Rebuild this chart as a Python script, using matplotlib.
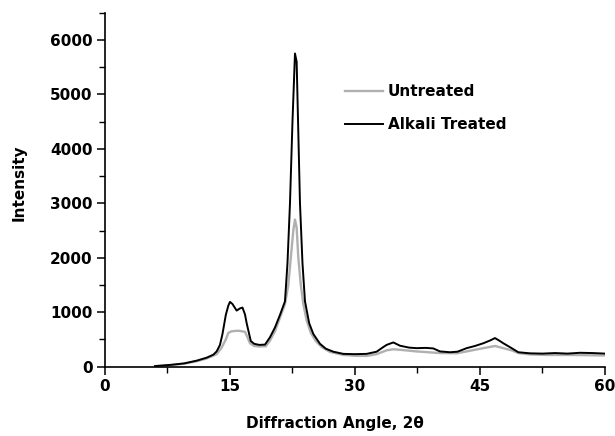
import matplotlib
matplotlib.use('Agg')
import matplotlib.pyplot as plt
from matplotlib.ticker import MultipleLocator

# diffraction angle (2 theta) and intensity
angle_t = [6.0, 8.0, 9.5, 11.0, 12.2, 13.0, 13.4, 13.8, 14.1, 14.5, 14.8, 15.0, 15.3, 15.8, 16.2,
           16.5, 16.8, 17.0, 17.3, 17.5, 17.9, 18.5, 19.2, 19.8, 20.4, 21.0, 21.6, 21.9, 22.2, 22.5,
           22.8, 23.0, 23.2, 23.4, 23.7, 24.0, 24.5, 25.0, 25.8, 26.5, 27.4, 28.6, 30.0, 31.4, 32.6,
           33.3, 33.8, 34.6, 35.4, 36.5, 37.4, 38.5, 39.4, 40.2, 41.4, 42.3, 43.4, 44.4, 45.4, 46.2,
           46.8, 47.3, 47.8, 48.8, 49.6, 51.0, 52.5, 54.0, 55.5, 57.0, 58.5, 60.0]
treated = [10, 35, 60, 110, 165, 220, 280, 400, 600, 950, 1120, 1190, 1150, 1030, 1070,
           1085, 960, 800, 600, 470, 420, 400, 405, 540, 720, 950, 1200, 1900, 3000, 4500,
           5750, 5600, 4300, 3000, 1900, 1200, 800, 600, 420, 330, 275, 235, 230, 235, 275,
           350, 400, 445, 385, 350, 340, 345, 335, 280, 265, 275, 340, 380, 430, 480,
           525, 480, 430, 340, 265, 245, 240, 250, 240, 255, 250, 240]

angle_u = [6.0, 8.0, 9.5, 11.0, 12.2, 13.4, 14.0, 14.5, 14.8, 15.2, 16.0, 16.8, 17.1, 17.4, 17.9,
           18.5, 19.3, 19.8, 20.4, 21.0, 21.6, 22.0, 22.3, 22.6, 22.8, 23.0, 23.2, 23.5, 23.8, 24.2,
           24.7, 25.3, 26.0, 27.0, 28.6, 30.0, 31.4, 32.6, 33.8, 34.6, 35.4, 37.4, 39.4, 40.2, 42.2,
           43.4, 45.4, 46.8, 47.8, 48.8, 49.6, 51.0, 53.0, 56.0, 60.0]
untreated = [10, 30, 55, 100, 150, 230, 350, 500, 620, 650, 660, 640, 540, 430, 380,
             370, 375, 480, 650, 900, 1150, 1500, 2000, 2500, 2700, 2550, 2000, 1500, 1150, 850,
             620, 470, 360, 270, 216, 200, 197, 230, 300, 320, 310, 280, 258, 250, 246,
             280, 340, 380, 340, 300, 250, 225, 215, 215, 205]

plt.rcParams['font.family'] = ['DejaVu Sans']
plt.rcParams['font.weight'] = 'bold'

fig = plt.figure(figsize=(6.15, 4.36), dpi=100)
ax = fig.add_axes([0.1707, 0.159, 0.813, 0.812])

ax.plot(angle_u, untreated, color='#b0b0b0', lw=1.7, label='Untreated')
ax.plot(angle_t, treated, color='black', lw=1.4, label='Alkali Treated')

ax.set_xlim(0, 60)
ax.set_ylim(0, 6500)
ax.xaxis.set_major_locator(MultipleLocator(15))
ax.xaxis.set_minor_locator(MultipleLocator(7.5))
ax.yaxis.set_minor_locator(MultipleLocator(500))
ax.set_yticks(range(0, 7000, 1000))

for s in ['top', 'right']:
    ax.spines[s].set_visible(False)
for s in ['left', 'bottom']:
    ax.spines[s].set_linewidth(1.2)
ax.tick_params(which='major', direction='out', length=6, width=1.1, labelsize=11, pad=3)
ax.tick_params(which='minor', direction='out', length=4, width=1.0)
for lab in ax.get_xticklabels() + ax.get_yticklabels():
    lab.set_fontweight('bold')

ax.set_xlabel('Diffraction Angle, 2θ', fontsize=11, fontweight='bold')
ax.set_ylabel('Intensity', fontsize=11, fontweight='bold')
ax.xaxis.set_label_coords(0.46, -0.139)
ax.yaxis.set_label_coords(-0.156, 0.52)

ax.legend(loc='upper left', bbox_to_anchor=(0.561, 0.8073), bbox_transform=fig.transFigure,
          frameon=False, fontsize=11, borderpad=0, borderaxespad=0,
          handlelength=2.5, handletextpad=0.3, labelspacing=1.17)

fig.savefig('out.png', dpi=100)
